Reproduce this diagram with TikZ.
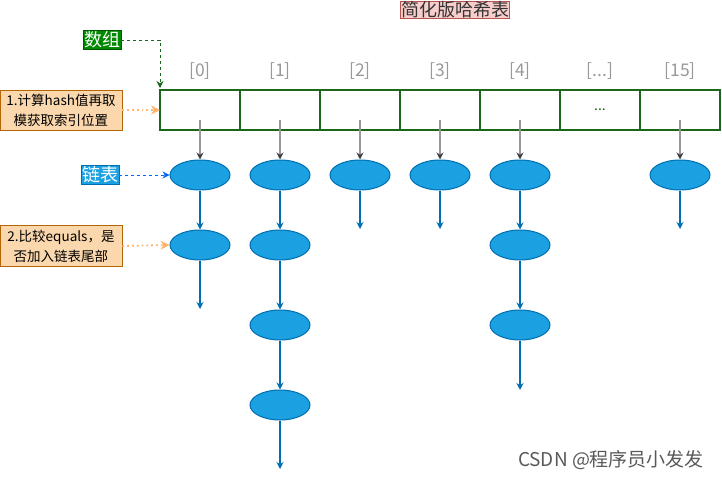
\documentclass[tikz,border=0pt]{standalone}
\usepackage{fontspec}
\setmainfont{Noto Sans CJK SC}
\usetikzlibrary{arrows.meta, shapes.geometric}

\definecolor{arrgreen}{HTML}{1A661A}
\definecolor{tagfill}{HTML}{008A00}
\definecolor{tagline}{HTML}{005700}
\definecolor{nodefill}{HTML}{1BA1E2}
\definecolor{nodeline}{HTML}{006EAF}
\definecolor{notefill}{HTML}{FAD7AC}
\definecolor{noteline}{HTML}{B46504}
\definecolor{noteptr}{HTML}{FFB570}
\definecolor{titlefill}{HTML}{F8CECC}
\definecolor{titleline}{HTML}{B85450}
\definecolor{idxgray}{HTML}{999999}

\begin{document}
\begin{tikzpicture}[x=1pt, y=-1pt, thick,
  cell/.style={draw=arrgreen, line width=1.5pt, minimum width=80pt, minimum height=40pt, inner sep=0pt, outer sep=0pt},
  entry/.style={ellipse, draw=nodeline, fill=nodefill, line width=1pt, minimum width=60pt, minimum height=30pt, inner sep=0pt},
  link/.style={draw=nodeline, line width=1.2pt, -{Stealth[length=7pt, width=7pt]}},
  hashptr/.style={draw=black!40, line width=1.5pt, -{Stealth[length=7pt, width=7pt, color=black!75]}},
  note/.style={draw=noteline, fill=notefill, line width=0.8pt, minimum width=122pt, inner sep=0pt, align=center, font=\fontsize{13.5}{20}\selectfont},
  tagbox/.style={line width=0.8pt, inner sep=1pt, text=white, font=\fontsize{18}{18}\selectfont},
  noteptr/.style={draw=noteptr, line width=1.8pt, dash pattern=on 1.8pt off 3pt, -{Stealth[length=9pt, width=9pt, color=noteptr, fill=noteptr]}}]
  \useasboundingbox (0,0) rectangle (722,479);

  % title
  \node[draw=titleline, fill=titlefill, line width=0.8pt, inner sep=0.5pt, text=black!80, font=\fontsize{18}{18}\selectfont] (title) at (455,10) {简化版哈希表};

  % array cells and their indices
  \foreach \i/\t in {0/{[0]}, 1/{[1]}, 2/{[2]}, 3/{[3]}, 4/{[4]}, 5/{[...]}, 6/{[15]}} {
    \node[cell] (c\i) at (200+80*\i,110) {};
    \node[text=idxgray, font=\fontsize{17.5}{17.5}\selectfont] (idx\i) at (200+80*\i,71) {\t};
  }
  \node[text=arrgreen, font=\fontsize{14}{14}\selectfont] (dots) at (c5.center) {...};

  % linked list entries: column/row/y
  \foreach \c/\r/\y in {0/1/175, 0/2/245, 1/1/175, 1/2/245, 1/3/325, 1/4/405, 2/1/175, 3/1/175, 4/1/175, 4/2/245, 4/3/325, 6/1/175}
    \node[entry] (e\c-\r) at (200+80*\c,\y) {};

  % free ends of the lists
  \foreach \c/\y in {0/309, 1/469, 2/229, 3/229, 4/390, 6/229}
    \coordinate (t\c) at (200+80*\c,\y);

  % cell -> first entry
  \foreach \c in {0,1,2,3,4,6}
    \draw[hashptr] ([yshift=-10pt]c\c.center) -- (e\c-1.north);

  % entry -> next entry
  \foreach \c/\a/\b in {0/1/2, 1/1/2, 1/2/3, 1/3/4, 4/1/2, 4/2/3}
    \draw[link] (e\c-\a.south) -- (e\c-\b.north);

  % last entry -> open end
  \foreach \c/\r in {0/2, 1/4, 2/1, 3/1, 4/3, 6/1}
    \draw[link] (e\c-\r.south) -- (t\c);

  % labels on the left
  \node[tagbox, draw=tagline, fill=tagfill] (arrtag) at (102,40) {数组};
  \draw[draw=arrgreen, dashed, line width=1pt, -{Stealth[length=7pt, width=7pt]}] (arrtag.east) -| ([yshift=2pt]c0.north west);

  \node[note, minimum height=40pt] (note1) at (61,110) {1.计算hash值再取\\模获取索引位置};
  \draw[noteptr] (note1.east) -- (c0.west);

  \node[tagbox, draw=nodeline, fill=nodefill] (listtag) at (100,175) {链表};
  \draw[draw=blue!60!cyan, dashed, line width=1pt, -{Stealth[length=7pt, width=7pt]}] (listtag.east) -- (e0-1.west);

  \node[note, minimum height=41pt] (note2) at (61,246) {2.比较equals，是\\否加入链表尾部};
  \draw[noteptr] (note2.east) -- (e0-2.west);

  % watermark
  \node[text=black!65, font=\fontsize{19}{19}\selectfont] (mark) at (611,460) {CSDN @程序员小发发};
\end{tikzpicture}
\end{document}
